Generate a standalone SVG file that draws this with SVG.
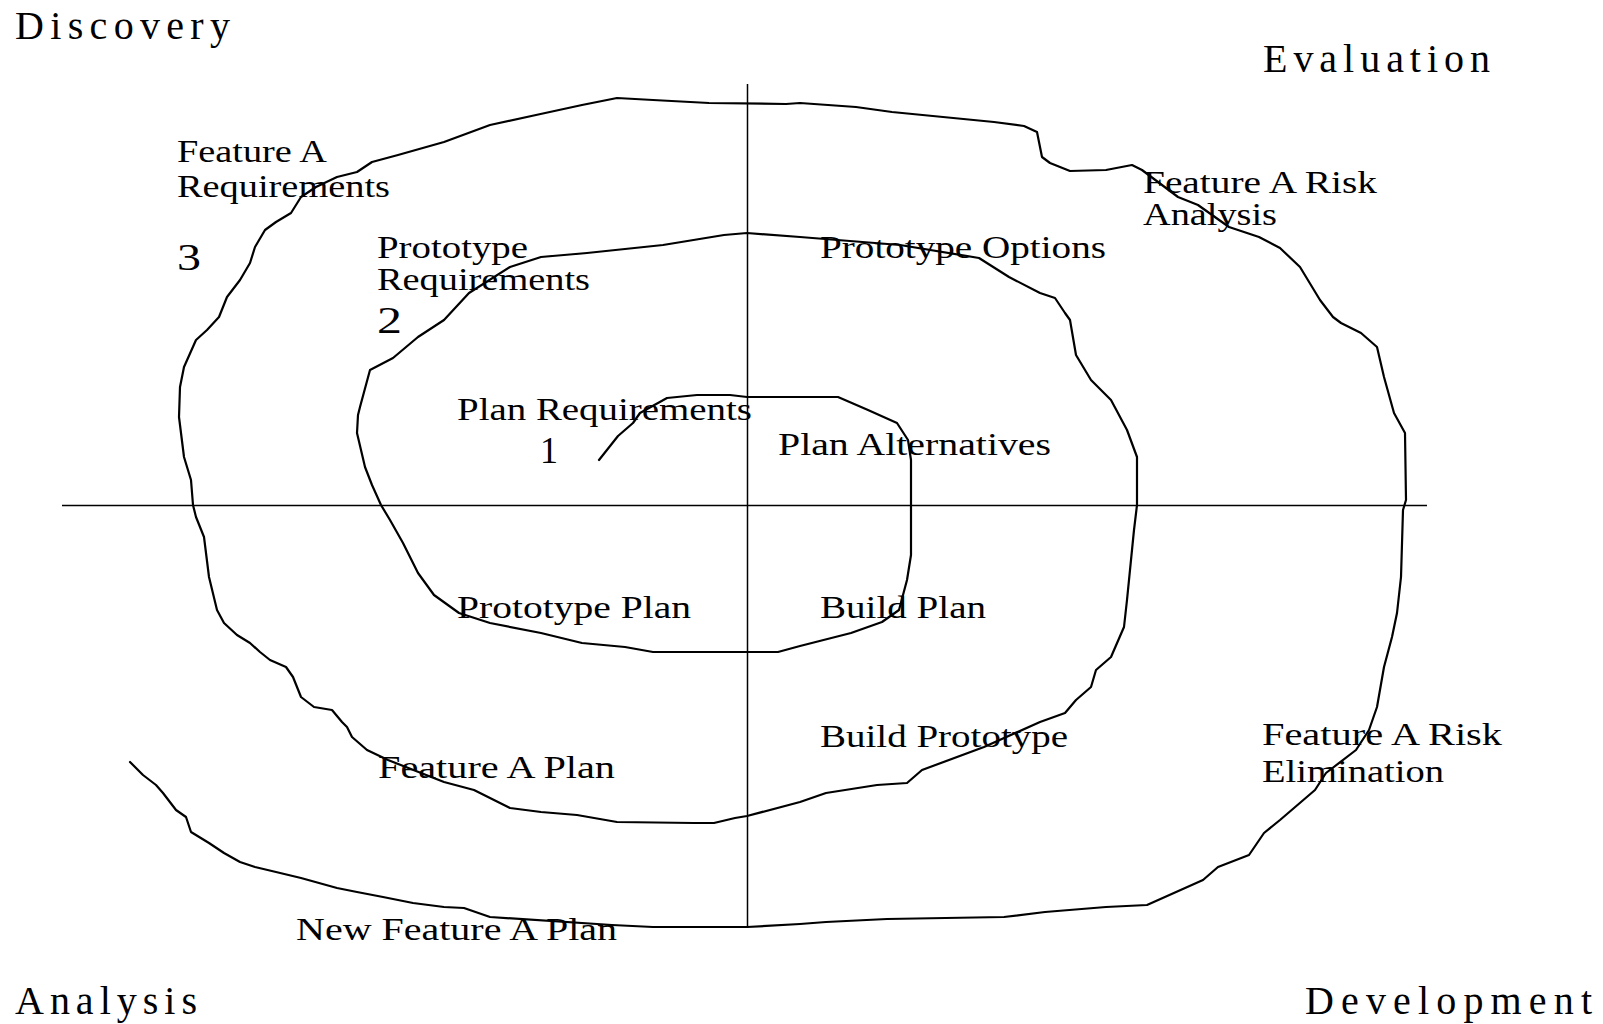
<svg xmlns="http://www.w3.org/2000/svg" width="1603" height="1024" viewBox="0 0 1603 1024">
<style>
.bg{fill:#fff}
.axis{stroke:#000;stroke-width:1.5;fill:none}
.spiral{stroke:#000;stroke-width:2.2;fill:none;stroke-linejoin:round;stroke-linecap:round}
.lbl{font-family:"Liberation Serif","Times New Roman",serif;font-size:31px;fill:#000}
.big{font-family:"Liberation Serif","Times New Roman",serif;font-size:40px;fill:#000}
.num{font-family:"Liberation Serif","Times New Roman",serif;font-size:38px;fill:#000}
</style>
<rect class="bg" x="0" y="0" width="1603" height="1024"/>
<g id="connectors">
<line class="axis" x1="62" y1="505.5" x2="1427" y2="505.5"/>
<line class="axis" x1="747.5" y1="84" x2="747.5" y2="928"/>
<polyline id="spiral" class="spiral" points="599,460 618,436 633,423 640,413 667,398 697,395 730,395 747,397 838,397 868,410 897,423 908,440 911,460 911,505 911,555 907,580 899,610 882,622 851,633 800,646 778,652 747,652 653,652 625,647 582,643 541,633 490,623 459,613 434,595 418,573 403,543 390,520 381,505 372,485 365,467 357,433 358,415 360,407 370,370 393,358 418,337 444,320 469,293 510,267 541,257 587,253 663,245 724,235 747,233 800,237 900,245 979,258 1009,277 1040,293 1055,298 1065,313 1070,320 1076,355 1091,380 1111,400 1127,430 1137,457 1137,505 1134,530 1127,600 1124,627 1111,657 1096,670 1091,687 1076,700 1065,713 1040,722 984,747 922,770 907,783 877,785 826,793 800,802 747,816 735,818 714,823 694,823 617,822 577,815 541,812 510,808 490,798 474,790 444,782 388,760 367,750 352,737 347,727 342,722 332,710 314,707 301,697 293,677 286,667 270,660 260,652 250,643 237,635 224,623 217,610 209,577 204,537 196,517 193,505 191,480 184,457 179,417 180,387 184,367 196,340 207,330 219,317 227,297 240,280 250,263 255,247 265,230 276,222 291,213 301,197 316,187 337,177 357,172 372,162 398,155 444,142 490,125 536,115 582,105 617,98 653,100 709,103 786,104 800,103 856,107 892,112 943,117 994,122 1024,126 1037,132 1042,157 1050,163 1070,171 1106,170 1132,165 1142,170 1178,197 1198,205 1229,227 1259,237 1280,248 1300,267 1320,300 1333,317 1341,323 1361,333 1377,347 1384,377 1394,413 1405,433 1406,500 1403,510 1401,577 1397,613 1392,637 1384,667 1377,707 1369,730 1356,750 1326,773 1315,790 1280,820 1264,833 1249,855 1218,867 1203,880 1147,905 1106,907 1045,912 1004,917 887,919 826,922 800,924 747,927 653,927 612,925 490,917 464,908 444,907 413,903 383,897 357,892 337,888 301,878 276,872 255,867 240,862 224,853 209,843 191,832 186,817 176,810 163,793 156,785 143,775 130,762"/>
</g>
<g id="quadrants">
<text id="discovery" class="big" x="15" y="39" textLength="215" lengthAdjust="spacing">Discovery</text>
<text id="evaluation" class="big" x="1263" y="72" textLength="227" lengthAdjust="spacing">Evaluation</text>
<text id="analysis" class="big" x="15" y="1014" textLength="182" lengthAdjust="spacing">Analysis</text>
<text id="development" class="big" x="1305" y="1014" textLength="287" lengthAdjust="spacing">Development</text>
</g>
<g id="labels">
<g id="feature-a-requirements"><text class="lbl" x="177" y="162" textLength="150" lengthAdjust="spacingAndGlyphs">Feature A</text><text class="lbl" x="177" y="197" textLength="213" lengthAdjust="spacingAndGlyphs">Requirements</text></g>
<text id="n3" class="num" x="177" y="270" textLength="24" lengthAdjust="spacingAndGlyphs">3</text>
<g id="prototype-requirements"><text class="lbl" x="377" y="258" textLength="151" lengthAdjust="spacingAndGlyphs">Prototype</text><text class="lbl" x="377" y="290" textLength="213" lengthAdjust="spacingAndGlyphs">Requirements</text></g>
<text id="n2" class="num" x="377" y="333" textLength="25" lengthAdjust="spacingAndGlyphs">2</text>
<text id="plan-requirements" class="lbl" x="457" y="420" textLength="295" lengthAdjust="spacingAndGlyphs">Plan Requirements</text>
<text id="n1" class="num" x="540" y="463" textLength="18" lengthAdjust="spacingAndGlyphs">1</text>
<g id="feature-a-risk-analysis"><text class="lbl" x="1143" y="193" textLength="234" lengthAdjust="spacingAndGlyphs">Feature A Risk</text><text class="lbl" x="1143" y="225" textLength="134" lengthAdjust="spacingAndGlyphs">Analysis</text></g>
<text id="prototype-options" class="lbl" x="820" y="258" textLength="286" lengthAdjust="spacingAndGlyphs">Prototype Options</text>
<text id="plan-alternatives" class="lbl" x="778" y="455" textLength="273" lengthAdjust="spacingAndGlyphs">Plan Alternatives</text>
<text id="prototype-plan" class="lbl" x="457" y="618" textLength="234" lengthAdjust="spacingAndGlyphs">Prototype Plan</text>
<text id="build-plan" class="lbl" x="820" y="618" textLength="166" lengthAdjust="spacingAndGlyphs">Build Plan</text>
<text id="build-prototype" class="lbl" x="820" y="747" textLength="248" lengthAdjust="spacingAndGlyphs">Build Prototype</text>
<text id="feature-a-plan" class="lbl" x="378" y="778" textLength="237" lengthAdjust="spacingAndGlyphs">Feature A Plan</text>
<g id="feature-a-risk-elimination"><text class="lbl" x="1262" y="745" textLength="240" lengthAdjust="spacingAndGlyphs">Feature A Risk</text><text class="lbl" x="1262" y="782" textLength="182" lengthAdjust="spacingAndGlyphs">Elimination</text></g>
<text id="new-feature-a-plan" class="lbl" x="296" y="940" textLength="321" lengthAdjust="spacingAndGlyphs">New Feature A Plan</text>
</g>
</svg>
